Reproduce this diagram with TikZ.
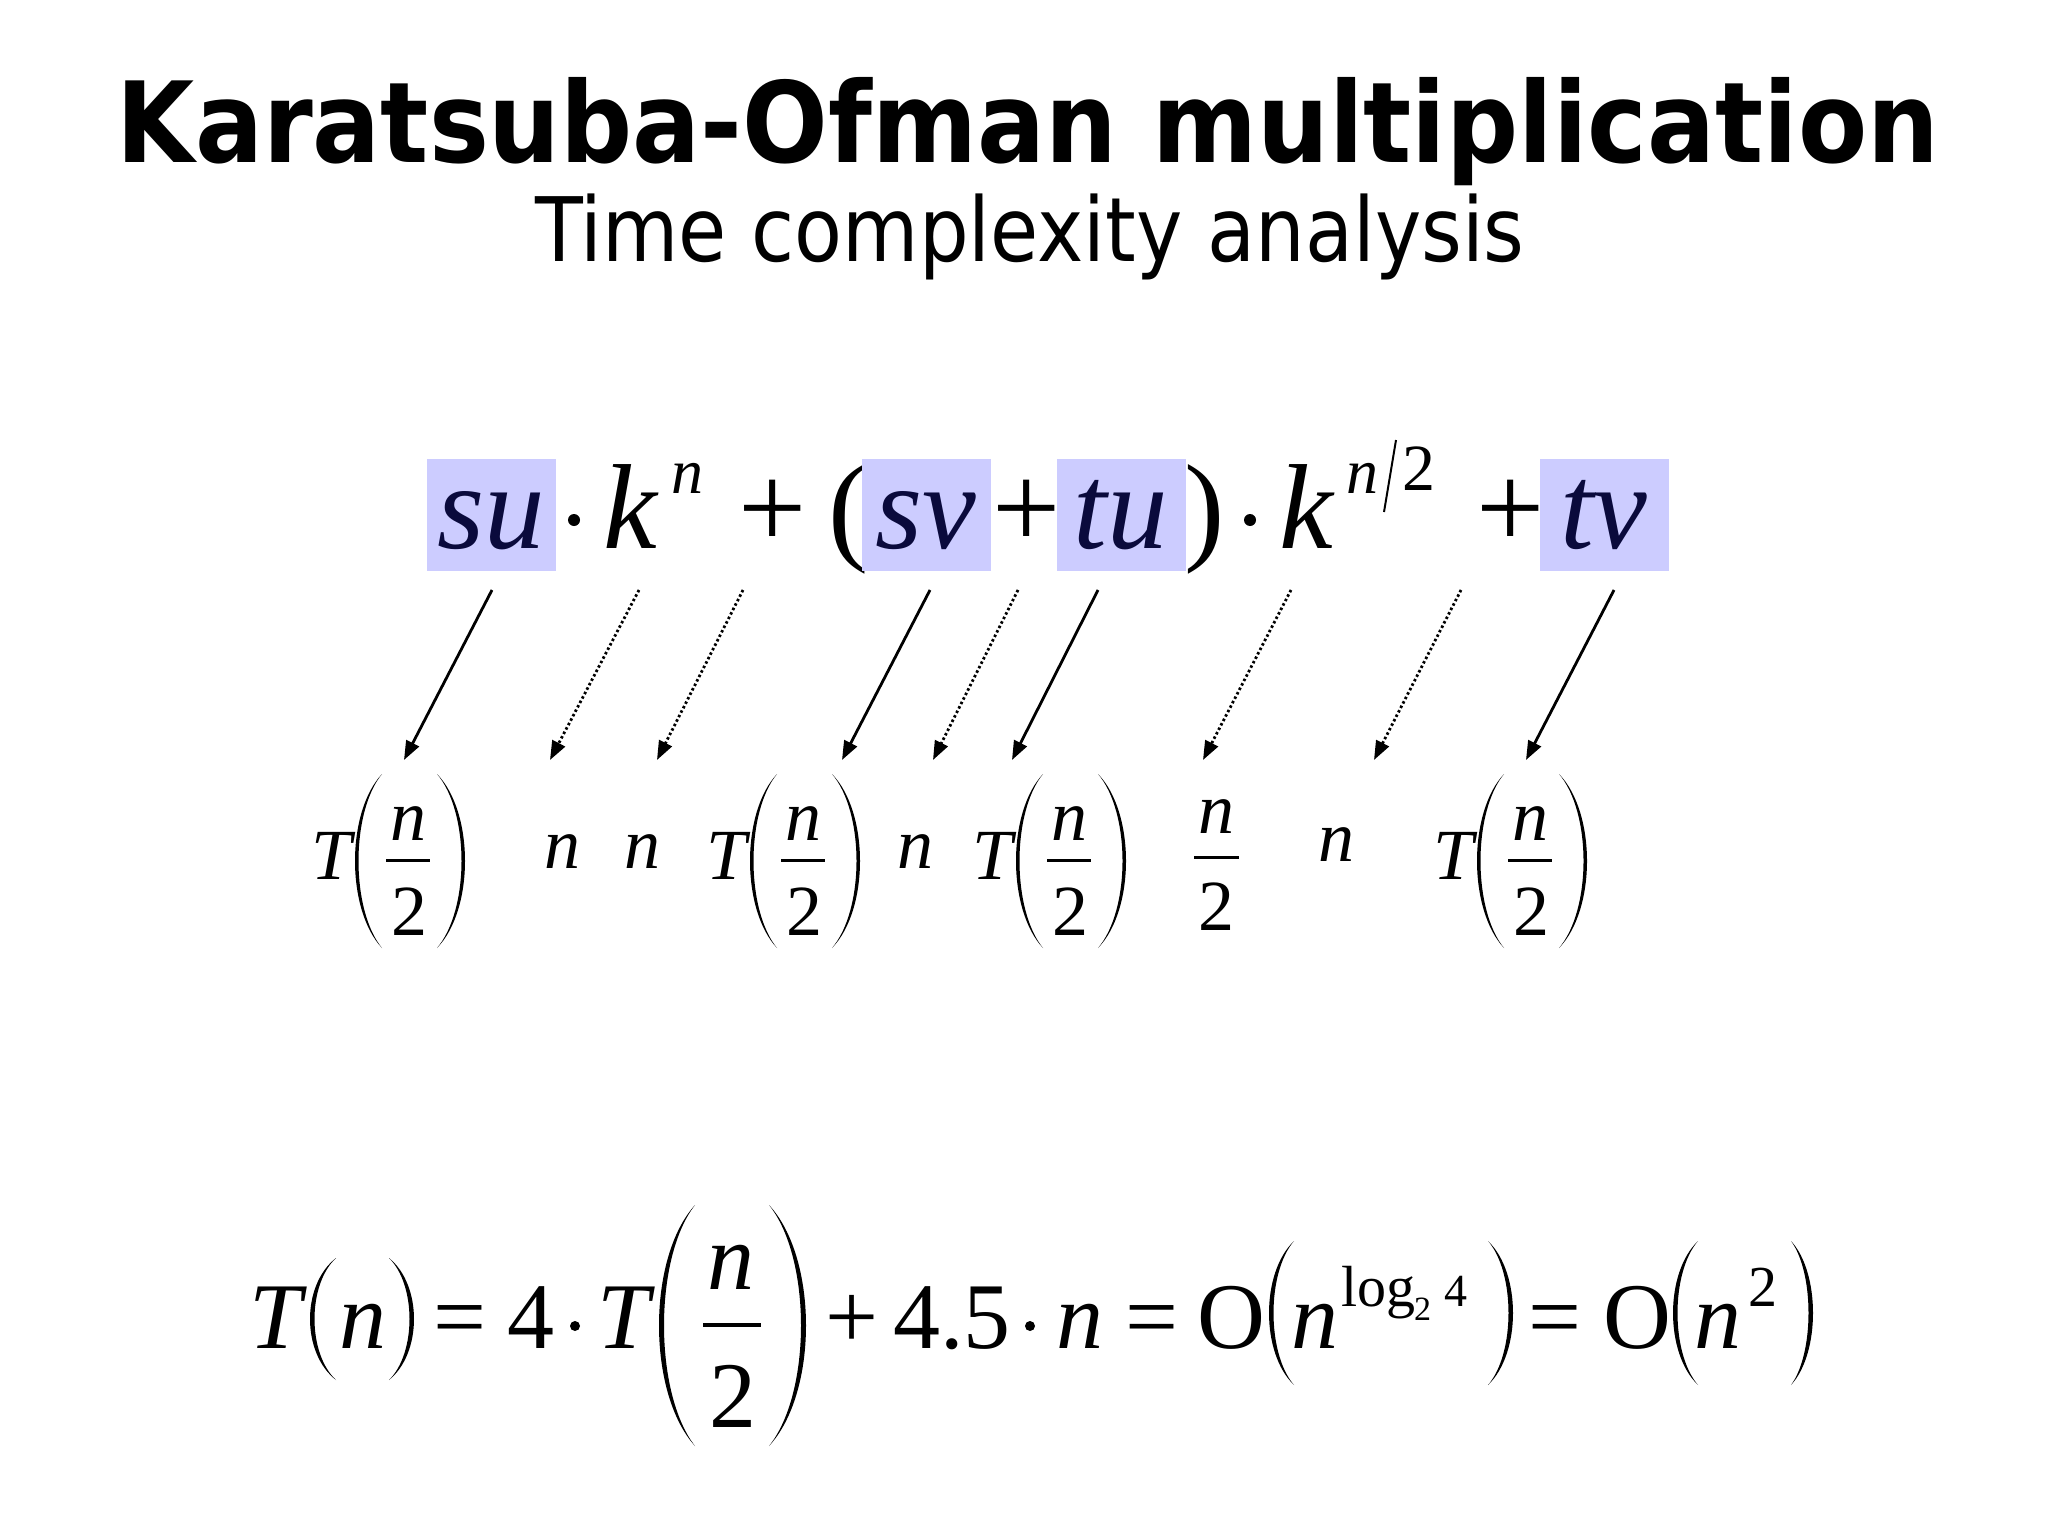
\documentclass[tikz,border=0pt]{standalone}
\usepackage{fontspec}
\usepackage{graphicx}
\usetikzlibrary{arrows.meta}
\newfontfamily\titlefont{DejaVu Sans}
\newfontfamily\mfont{Liberation Serif}
\definecolor{boxfill}{RGB}{204,204,255}
\definecolor{navy}{RGB}{10,10,60}
% parenthesis: #1 extreme x, #2 end x, #3 top y, #4 bottom y, #5 signed thickness
\newcommand{\kparen}[5]{%
  \fill ({(#2)},{(#3)})
     .. controls ({(#1)-((#2)-(#1))/3},{(#3)+0.22*((#4)-(#3))}) and ({(#1)-((#2)-(#1))/3},{(#4)-0.22*((#4)-(#3))}) .. ({(#2)},{(#4)})
     .. controls ({(#1)+(#5)-((#2)-(#1)-(#5))/3},{(#4)-0.22*((#4)-(#3))}) and ({(#1)+(#5)-((#2)-(#1)-(#5))/3},{(#3)+0.22*((#4)-(#3))}) .. ({(#2)},{(#3)}) -- cycle;}
% T(n/2) group in row 2: #1 name, #2 left x of T
\newcommand{\Tfrac}[2]{%
  \node[ri] (#1T) at ({#2},879) {T};
  \kparen{#2+44}{#2+71}{774}{948}{3.5}
  \node[ri,anchor=base] (#1n) at ({#2+97},840) {n};
  \fill ({#2+75},858.5) rectangle ({#2+119},861.5);
  \node[rr,anchor=base] (#1d) at ({#2+98},935) {2};
  \kparen{#2+154}{#2+126}{774}{948}{-3.5}}
\tikzset{
  ti/.style={font=\mfont\itshape\fontsize{121}{121}\selectfont, inner sep=0pt, anchor=base west},
  tr/.style={font=\mfont\fontsize{121}{121}\selectfont, inner sep=0pt, anchor=base west},
  tsup/.style={font=\mfont\itshape\fontsize{64}{64}\selectfont, inner sep=0pt, anchor=base west},
  tsupr/.style={font=\mfont\fontsize{66}{66}\selectfont, inner sep=0pt, anchor=base west},
  hl/.style={fill=boxfill, text=navy, font=\mfont\itshape\fontsize{121}{121}\selectfont,
    inner sep=0pt, text height=89pt, text depth=23pt, minimum width=129pt, anchor=base},
  ri/.style={font=\mfont\itshape\fontsize{72}{72}\selectfont, inner sep=0pt, anchor=base west},
  rr/.style={font=\mfont\fontsize{72}{72}\selectfont, inner sep=0pt, anchor=base west},
  bi/.style={font=\mfont\itshape\fontsize{94}{94}\selectfont, inner sep=0pt, anchor=base west},
  br/.style={font=\mfont\fontsize{94}{94}\selectfont, inner sep=0pt, anchor=base west},
  bsup/.style={font=\mfont\fontsize{58}{58}\selectfont, inner sep=0pt, anchor=base west},
  bsub/.style={font=\mfont\fontsize{34}{34}\selectfont, inner sep=0pt, anchor=base west},
  dotn/.style={circle, fill=black, inner sep=0pt, minimum size=#1},
  solidarrow/.style={line width=2.8pt, -{Triangle[length=19pt,width=14pt]}},
  dotarrow/.style={solidarrow, dash pattern=on 2.5pt off 2.5pt},
}
\begin{document}
\begin{tikzpicture}[x=1pt,y=-1pt]
\useasboundingbox[fill=white] (0,0) rectangle (2048,1536);
% titles
\node[anchor=base, inner sep=0pt] (title) at (1028,163)
  {\titlefont\fontsize{112}{112}\selectfont\bfseries\scalebox{0.9}[1]{Karatsuba-Ofman multiplication}};
\node[anchor=base, inner sep=0pt] (subtitle) at (1030,261)
  {\titlefont\fontsize{89}{89}\selectfont\scalebox{0.88}[1]{Time complexity analysis}};
% top formula
\node[hl] (su) at (491.5,548) {su};
\node[dotn=12pt] (d1) at (574,520) {};
\node[ti] (k1) at (603,548) {k};
\node[tsup] (e1) at (671,493) {n};
\node[tr,anchor=base] (p1) at (773,548) {+};
\node[tr] (lp) at (828,548) {(};
\node[hl] (sv) at (926,548) {sv};
\node[tr,anchor=base] (p2) at (1027,548) {+};
\node[hl] (tu) at (1121,548) {tu};
\node[tr] (rp) at (1184,548) {)};
\node[dotn=12pt] (d2) at (1250,520) {};
\node[ti] (k2) at (1279,548) {k};
\node[tsup] (e2) at (1346,493) {n};
\draw[line width=2pt] (1396,440) -- (1384,512);
\node[tsupr] (e3) at (1402,490) {2};
\node[tr,anchor=base] (p3) at (1511,548) {+};
\node[hl] (tv) at (1604,548) {tv};
% row 2
\Tfrac{a}{311}
\node[ri,anchor=base] (m1) at (562,868) {n};
\node[ri,anchor=base] (m2) at (642,868) {n};
\Tfrac{b}{706}
\node[ri,anchor=base] (m3) at (915,868) {n};
\Tfrac{c}{972}
\node[ri,anchor=base] (h1) at (1216,833) {n};
\fill (1194,856) rectangle (1239,859);
\node[rr,anchor=base] (h2) at (1216,930) {2};
\node[ri,anchor=base] (m4) at (1336,861) {n};
\Tfrac{d}{1433}
% arrows
\coordinate (a1s) at (492,590); \coordinate (a1e) at (404,760);
\coordinate (a2s) at (639,590); \coordinate (a2e) at (550,760);
\coordinate (a3s) at (743,590); \coordinate (a3e) at (657,760);
\coordinate (a4s) at (930,590); \coordinate (a4e) at (842,760);
\coordinate (a5s) at (1018,590); \coordinate (a5e) at (933,760);
\coordinate (a6s) at (1098,590); \coordinate (a6e) at (1012,760);
\coordinate (a7s) at (1291,590); \coordinate (a7e) at (1203,760);
\coordinate (a8s) at (1461,590); \coordinate (a8e) at (1374,760);
\coordinate (a9s) at (1614,590); \coordinate (a9e) at (1526,760);
\draw[solidarrow] (a1s) -- (a1e);
\draw[dotarrow] (a2s) -- (a2e);
\draw[dotarrow] (a3s) -- (a3e);
\draw[solidarrow] (a4s) -- (a4e);
\draw[dotarrow] (a5s) -- (a5e);
\draw[solidarrow] (a6s) -- (a6e);
\draw[dotarrow] (a7s) -- (a7e);
\draw[dotarrow] (a8s) -- (a8e);
\draw[solidarrow] (a9s) -- (a9e);
% bottom formula
\node[bi] (bT) at (249,1348) {T};
\kparen{310}{336}{1258}{1380}{4.5}
\node[bi] (bn) at (339,1348) {n};
\kparen{414}{389}{1258}{1380}{-4.5}
\node[br] (beq1) at (433,1348) {=};
\node[br] (b4) at (507,1348) {4};
\node[dotn=10pt] (bd1) at (575,1326) {};
\node[bi] (bT2) at (597,1348) {T};
\kparen{659}{695}{1205}{1446}{5}
\node[bi,anchor=base] (bfn) at (731,1289) {n};
\fill (703,1323) rectangle (761,1327);
\node[br,anchor=base] (bfd) at (733,1427) {2};
\kparen{806}{769}{1205}{1446}{-5}
\node[br,anchor=base] (bplus) at (852,1348) {+};
\node[br] (b45) at (893,1348) {4.5};
\node[dotn=10pt] (bd2) at (1030,1326) {};
\node[bi] (bn2) at (1056,1348) {n};
\node[br] (beq2) at (1125,1348) {=};
\node[br] (bO1) at (1197,1348) {O};
\kparen{1269}{1294}{1241}{1385}{4.5}
\node[bi] (bn3) at (1291,1348) {n};
\node[bsup] (blog) at (1341,1306) {log};
\node[bsub] (bsub2) at (1414,1320) {2};
\node[bsup,font=\mfont\fontsize{46}{46}\selectfont] (bfour) at (1444,1306) {4};
\kparen{1513}{1488}{1241}{1385}{-4.5}
\node[br] (beq3) at (1528,1348) {=};
\node[br] (bO2) at (1603,1348) {O};
\kparen{1673}{1698}{1241}{1385}{4.5}
\node[bi] (bn4) at (1694,1348) {n};
\node[bsup] (bsq) at (1748,1306) {2};
\kparen{1813}{1791}{1241}{1385}{-4.5}
\end{tikzpicture}
\end{document}
